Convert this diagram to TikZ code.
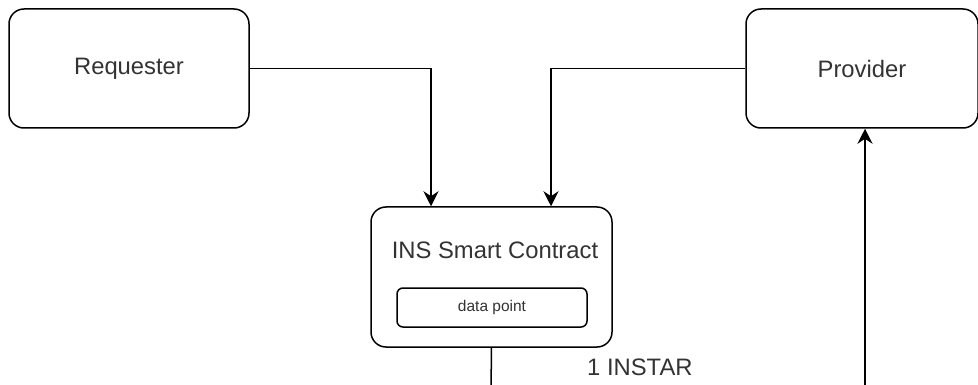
\documentclass[tikz,border=0pt]{standalone}
\usepackage{fontspec}
\setmainfont{Liberation Sans}
\usetikzlibrary{arrows.meta}
\begin{document}
\begin{tikzpicture}[x=1pt,y=-1pt,
  big/.style={font=\fontsize{23.8}{27}\selectfont, text=black!80},
  box/.style={big, draw=black, line width=1.5pt, rounded corners=15pt, fill=white, inner sep=0pt},
  small/.style={draw=black, line width=1.5pt, rounded corners=6pt, fill=white, inner sep=0pt,
    font=\fontsize{15.5}{18}\selectfont, text=black!80},
  conn/.style={line width=1.5pt, draw=black},
  arr/.style={conn, -{Stealth[length=15pt,width=15pt,inset=5pt]}}]
\useasboundingbox (0,0) rectangle (978,385);
\fill[white] (0,0) rectangle (978,385);
\node[box, minimum width=240pt, minimum height=119pt] (req) at (129,68.5) {\raisebox{-2pt}{Requester}};
\node[box, minimum width=232pt, minimum height=119pt] (prov) at (862,68.5) {\raisebox{-2pt}{Provider}};
\node[box, minimum width=241pt, minimum height=140pt] (ins) at (491.5,277) {};
\node[big] (title) at (495,250) {INS Smart Contract};
\node[small, minimum width=190pt, minimum height=39pt] (dp) at (492,307.5) {data point};
\coordinate (c1) at (431,68.5);
\coordinate (c2) at (551,68.5);
\coordinate (bot1) at (491,390);
\coordinate (bot2) at (865,390);
\draw[arr] (req.east) -- (c1) -- (c1 |- ins.north);
\draw[arr] (prov.west) -- (c2) -- (c2 |- ins.north);
\draw[conn] (ins.south) -- (bot1);
\draw[arr] (bot2) -- (bot2 |- prov.south);
\node[big, anchor=base west, inner sep=0pt] (lbl) at (587,375) {1 INSTAR};
\end{tikzpicture}
\end{document}
